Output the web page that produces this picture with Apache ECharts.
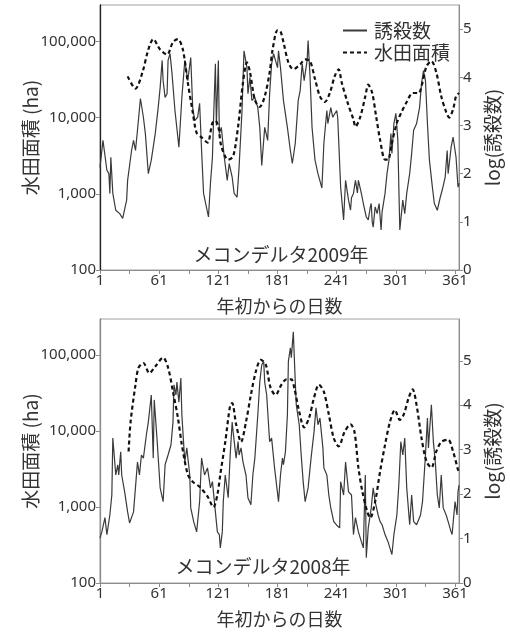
<!DOCTYPE html>
<html><head><meta charset="utf-8">
<script src="https://cdn.jsdelivr.net/npm/echarts@6/dist/echarts.min.js"></script>
<style>html,body{margin:0;padding:0;background:#fff}#c{width:510px;height:632px}</style>
</head><body><div id="c"></div>
<script>
// ---- data ----
const xTickLabels = [1, 61, 121, 181, 241, 301, 361];
const xMinorTicks = [1, 31, 61, 91, 121, 151, 181, 211, 241, 271, 301, 331, 361];
const leftTicks = [100, 1000, 10000, 100000];
const rightTicks = [0, 1, 2, 3, 4, 5];

// 2009: trap catch (log10 of count, right axis)
const kill2009Days = [1,4,8,10,11,12,14,17,21,24,28,29,33,35,37,39,42,45,47,50,53,57,60,62,64,65,67,69,70,72,74,77,81,84,87,90,93,95,97,100,102,104,106,111,113,115,116,118,119,121,122,124,127,130,132,135,137,140,142,145,147,150,151,153,155,158,161,163,165,168,171,173,175,177,181,182,184,187,191,194,196,199,202,204,206,208,211,212,214,216,219,222,226,228,231,232,235,237,241,242,243,245,248,250,253,255,256,258,260,262,263,266,268,271,273,275,276,277,278,280,282,284,286,287,288,290,292,294,296,297,299,301,303,304,305,308,310,312,315,317,319,322,325,327,329,331,333,335,338,340,343,346,348,351,353,354,357,359,362,364,365];
const kill2009Log  = [2.13,2.69,2.07,2.0,1.59,2.34,1.59,1.24,1.17,1.07,1.45,1.86,2.48,2.69,2.48,2.9,3.56,3.17,2.83,2.0,2.28,2.83,3.37,3.79,4.35,3.93,3.58,3.66,4.35,4.49,4.08,3.31,2.55,3.58,4.35,3.93,4.41,3.37,3.1,3.17,3.46,2.48,1.59,1.1,1.8,2.34,3.04,4.28,3.0,4.35,2.83,2.96,2.34,1.86,2.21,1.93,1.59,1.51,2.13,3.31,4.55,4.2,3.66,4.0,3.52,3.58,3.37,2.96,2.17,2.96,2.69,3.66,4.28,4.49,4.2,4.55,4.2,3.52,2.96,2.48,2.21,2.63,3.52,3.73,4.28,3.93,4.35,4.76,4.0,2.96,2.28,2.0,1.7,2.63,3.31,3.04,3.37,3.17,3.31,3.17,2.69,1.72,1.04,1.86,1.45,1.24,1.5,1.59,1.86,1.6,1.86,1.59,1.38,1.1,1.04,1.3,1.38,1.0,0.89,1.31,1.17,1.38,0.83,1.2,1.17,1.59,2.0,2.28,2.83,2.42,3.04,3.25,2.69,1.72,0.83,1.45,1.17,1.59,2.0,2.42,2.9,3.04,3.37,3.87,4.14,3.93,3.04,2.28,1.72,1.38,1.24,1.51,1.66,1.93,2.48,2.0,2.55,2.76,2.34,1.72,1.8];
// 2009: paddy area (ha, left log axis)
const paddy2009Days = [29,37,44,50,55,62,69,75,80,85,90,95,99,104,110,115,118,121,124,131,136,141,146,150,153,158,163,168,173,176,181,184,187,192,197,204,209,214,219,224,229,234,239,243,246,252,258,260,265,270,273,277,281,285,290,293,297,302,307,312,318,324,328,332,337,342,347,352,355,359,362,365];
const paddy2009Ha   = [34700,24000,39000,78000,107000,78000,67000,98000,107000,78000,29000,11800,6300,5500,4700,8500,9100,7600,4200,2800,3100,7600,29000,53000,40000,17000,13800,19000,39000,78000,140000,135000,98000,53000,43000,50000,58000,55000,32000,19000,16000,21000,35000,43000,29000,15800,9400,7600,10300,19000,27000,21000,10300,5100,2800,2800,4700,8500,12000,16000,21000,21000,29000,47000,55000,39000,19000,11800,10000,12800,19000,21000];

// 2008: trap catch (log10 of count, right axis)
const kill2008Days = [1,3,6,8,11,13,14,17,19,20,22,23,26,29,31,33,35,39,41,43,45,48,50,53,55,56,59,62,65,67,70,73,75,76,78,79,81,83,84,87,89,92,93,96,99,102,104,107,110,113,115,118,120,122,123,125,126,128,131,133,135,136,139,141,142,144,146,149,151,154,156,158,161,163,165,167,168,170,173,175,178,182,184,186,187,189,191,192,194,195,197,199,200,203,205,207,209,212,215,218,220,222,224,227,228,231,233,235,238,241,244,245,248,250,253,256,258,260,263,266,268,270,271,273,276,278,280,283,285,287,290,293,297,299,302,304,306,308,310,312,315,317,319,322,326,328,331,333,334,337,339,341,343,345,347,349,352,354,357,358,361,363,364,365];
const kill2008Log  = [1.01,1.16,1.47,1.09,1.53,1.98,3.26,2.43,2.66,2.43,2.95,2.43,2.05,1.6,1.35,1.38,1.6,2.72,2.43,2.88,2.81,3.33,3.62,4.23,2.81,4.12,3.18,2.14,1.83,2.66,2.88,3.11,3.62,4.46,4.23,4.52,4.07,4.61,3.78,2.72,3.04,2.43,1.69,1.38,1.15,1.83,2.81,2.43,2.59,2.14,2.28,1.6,1.15,1.09,0.79,1.15,1.83,2.43,1.92,2.88,3.62,3.4,2.81,3.18,2.88,3.04,2.72,2.43,1.92,1.76,2.43,2.81,3.78,4.52,4.91,4.98,4.52,4.23,3.18,3.26,2.59,1.83,2.43,2.81,2.66,2.95,3.78,4.98,5.29,5.07,5.65,4.52,4.01,3.56,2.88,2.28,1.83,2.14,2.81,3.4,3.94,3.56,3.71,3.04,2.59,2.43,1.98,1.69,1.38,1.3,1.24,2.28,1.98,2.72,2.05,1.98,1.09,1.47,1.15,0.93,0.79,2.43,0.57,1.24,1.69,2.14,1.83,1.53,1.38,1.31,1.09,0.93,0.64,1.09,1.53,2.21,3.18,2.88,3.26,2.14,1.31,1.98,1.38,1.31,1.53,1.83,2.88,3.71,3.04,4.01,3.18,2.72,1.98,1.69,2.43,1.69,1.53,1.38,1.15,1.09,1.83,1.53,2.05,2.2];
// 2008: paddy area (ha, left log axis)
const paddy2008Days = [30,32,37,40,45,51,57,65,70,75,80,84,90,95,102,110,116,120,123,128,133,135,139,144,149,154,159,164,169,174,179,185,190,195,198,203,208,213,218,223,228,233,238,243,249,255,259,263,267,272,275,280,285,290,295,300,305,309,314,318,322,327,332,337,342,347,354,359,364,365];
const paddy2008Ha   = [5400,13200,41000,68000,79000,58000,71000,93000,69000,33000,15000,6600,2700,2150,1850,1380,1000,1450,2700,7200,22000,23500,12300,7200,13200,30000,61000,87000,76000,37000,30000,41000,48000,48000,37000,18000,11200,15000,27500,41000,33000,16600,8100,6300,9800,12300,9800,3300,1600,870,720,1180,2950,6600,13200,19000,14100,16600,27500,35500,22000,8100,4000,3300,5400,7200,7700,5400,3100,2900];

const seriesNames = ['誘殺数', '水田面積'];
const panelTitles = ['メコンデルタ2009年', 'メコンデルタ2008年'];
const xName = '年初からの日数';
const leftName = '水田面積 (ha)';
const rightName = 'log(誘殺数)';

function zip(a, b) { return a.map((d, i) => [d, b[i]]); }

const FONT = "'Noto Sans', 'Noto Sans CJK JP', sans-serif";
const CJK = "'Noto Sans CJK JP', sans-serif";
const TXT = '#333';
const AX = '#8c8c8c';

function xAxisCfg(gi) {
  return {
    gridIndex: gi, type: 'value', min: 1, max: 365,
    name: xName, nameLocation: 'middle', nameGap: 27,
    nameTextStyle: { fontSize: 18, color: TXT, fontFamily: CJK },
    axisLine: { onZero: false, lineStyle: { color: AX, width: 1 } },
    axisTick: { show: true, length: 4, lineStyle: { color: AX }, customValues: xMinorTicks },
    axisLabel: { customValues: xTickLabels, fontSize: 15, color: TXT, fontFamily: FONT, margin: 3 },
    splitLine: { show: false }
  };
}
function leftAxisCfg(gi, lineColor) {
  return {
    gridIndex: gi, type: 'log', logBase: 10, min: 100, max: 300000, position: 'left',
    name: leftName, nameLocation: 'middle', nameGap: 60, nameRotate: 90, nameMoveOverlap: false,
    nameTextStyle: { fontSize: 19, color: TXT, fontFamily: CJK },
    axisLine: { show: true, lineStyle: { color: lineColor, width: 1.3 } },
    axisTick: { show: true, length: 4, lineStyle: { color: AX }, customValues: leftTicks },
    axisLabel: { customValues: leftTicks, fontSize: 15, color: TXT, fontFamily: FONT, margin: 4,
      formatter: v => Math.round(v).toLocaleString('en-US') },
    splitLine: { show: false }
  };
}
function rightAxisCfg(gi, maxV) {
  return {
    gridIndex: gi, type: 'value', min: 0, max: maxV, position: 'right',
    name: rightName, nameLocation: 'middle', nameGap: 24, nameRotate: 90,
    nameTextStyle: { fontSize: 19, color: TXT, fontFamily: CJK },
    axisLine: { show: true, lineStyle: { color: AX, width: 1 } },
    axisTick: { show: true, length: 4, lineStyle: { color: AX }, customValues: rightTicks },
    axisLabel: { customValues: rightTicks, fontSize: 15, color: TXT, fontFamily: FONT, margin: 4 },
    splitLine: { show: false }
  };
}
const solidStyle = { color: '#3a3a3a', width: 1.2, type: 'solid' };
const dashStyle = { color: '#111', width: 2.2, type: [4, 3] };

const option = {
  backgroundColor: '#fff',
  animation: false,
  grid: [
    { left: 100, right: 51, top: 5, height: 265, show: true, borderColor: '#a0a0a0', borderWidth: 1, backgroundColor: 'transparent' },
    { left: 100, right: 51, top: 319, height: 264, show: true, borderColor: '#a0a0a0', borderWidth: 1, backgroundColor: 'transparent' }
  ],
  xAxis: [xAxisCfg(0), xAxisCfg(1)],
  yAxis: [leftAxisCfg(0, '#222'), rightAxisCfg(0, 5.5), leftAxisCfg(1, AX), rightAxisCfg(1, 5.94)],
  legend: {
    data: seriesNames, orient: 'vertical', left: 337, top: 16, itemGap: 3,
    itemWidth: 24, itemHeight: 12,
    itemStyle: { opacity: 0 },
    textStyle: { fontSize: 19, color: TXT, fontFamily: CJK, padding: [0, 0, 0, 2] }
  },
  graphic: [
    { type: 'text', x: 281, y: 255, style: { text: panelTitles[0], fill: TXT, font: "19px 'Noto Sans CJK JP'", align: 'center', verticalAlign: 'middle' } },
    { type: 'text', x: 263, y: 567, style: { text: panelTitles[1], fill: TXT, font: "19px 'Noto Sans CJK JP'", align: 'center', verticalAlign: 'middle' } }
  ],
  series: [
    { name: seriesNames[0], type: 'line', xAxisIndex: 0, yAxisIndex: 1, data: zip(kill2009Days, kill2009Log), showSymbol: false, symbol: 'none', lineStyle: solidStyle, itemStyle: { color: '#3a3a3a' } },
    { name: seriesNames[1], type: 'line', xAxisIndex: 0, yAxisIndex: 0, data: zip(paddy2009Days, paddy2009Ha), showSymbol: false, symbol: 'none', smooth: 0.3, lineStyle: dashStyle, itemStyle: { color: '#111' } },
    { name: seriesNames[0], type: 'line', xAxisIndex: 1, yAxisIndex: 3, data: zip(kill2008Days, kill2008Log), showSymbol: false, symbol: 'none', lineStyle: solidStyle, itemStyle: { color: '#3a3a3a' } },
    { name: seriesNames[1], type: 'line', xAxisIndex: 1, yAxisIndex: 2, data: zip(paddy2008Days, paddy2008Ha), showSymbol: false, symbol: 'none', smooth: 0.3, lineStyle: dashStyle, itemStyle: { color: '#111' } }
  ]
};
const chart = echarts.init(document.getElementById('c'), null, { renderer: 'canvas' });
chart.setOption(option);
</script></body></html>
